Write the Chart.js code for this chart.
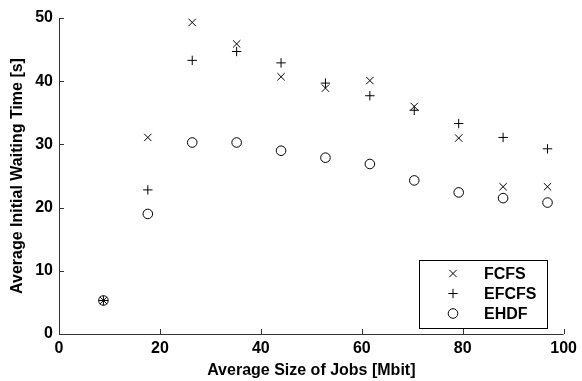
<!DOCTYPE html>
<html>
<head>
<meta charset="utf-8">
<script src="https://cdn.jsdelivr.net/npm/chart.js@4/dist/chart.umd.min.js"></script>
<style>
  html, body { margin: 0; padding: 0; background: #fff; }
  #wrap { width: 582px; height: 381px; position: relative; }
</style>
</head>
<body>
<div id="wrap"><canvas id="c"></canvas></div>
<script>
const jobSizes = [8.8, 17.6, 26.4, 35.2, 44.0, 52.8, 61.6, 70.4, 79.2, 88.0, 96.8];
const fcfs  = [5.3, 31.1, 49.3, 45.9, 40.7, 38.9, 40.1, 36.0, 31.0, 23.3, 23.3];
const efcfs = [5.3, 22.8, 43.3, 44.7, 42.9, 39.7, 37.7, 35.4, 33.3, 31.1, 29.3];
const ehdf  = [5.3, 19.0, 30.3, 30.3, 29.0, 27.9, 26.9, 24.3, 22.4, 21.5, 20.8];
const seriesNames = ['FCFS', 'EFCFS', 'EHDF'];
const xTicks = [0, 20, 40, 60, 80, 100];
const yTicks = [0, 10, 20, 30, 40, 50];

const FONT = "'Liberation Sans', Arial, sans-serif";

function pts(vals) { return jobSizes.map((x, i) => ({ x: x, y: vals[i] })); }

const styles = [
  { pointStyle: 'crossRot', radius: 5.2 },
  { pointStyle: 'cross', radius: 4.7 },
  { pointStyle: 'circle', radius: 4.8 }
];
const seriesVals = [fcfs, efcfs, ehdf];

const datasets = seriesNames.map((name, i) => ({
  label: name,
  data: pts(seriesVals[i]),
  showLine: false,
  pointStyle: styles[i].pointStyle,
  pointRadius: styles[i].radius,
  pointHoverRadius: styles[i].radius,
  pointBorderColor: '#000',
  pointBackgroundColor: 'rgba(0,0,0,0)',
  pointBorderWidth: 1,
  borderColor: '#000',
  backgroundColor: 'rgba(0,0,0,0)'
}));

const tickPlugin = {
  id: 'inwardTicks',
  afterDatasetsDraw(chart) {
    const ctx = chart.ctx;
    const xs = chart.scales.x, ys = chart.scales.y;
    const area = chart.chartArea;
    ctx.save();
    ctx.strokeStyle = '#333';
    ctx.lineWidth = 1;
    ctx.beginPath();
    ctx.moveTo(area.left + 0.5, area.top);
    ctx.lineTo(area.left + 0.5, area.bottom + 0.5);
    ctx.lineTo(area.right, area.bottom + 0.5);
    xTicks.forEach(v => {
      const px = Math.round(xs.getPixelForValue(v)) + 0.5;
      ctx.moveTo(px, area.bottom);
      ctx.lineTo(px, area.bottom - 5);
    });
    yTicks.forEach(v => {
      const py = Math.round(ys.getPixelForValue(v)) + 0.5;
      ctx.moveTo(area.left, py);
      ctx.lineTo(area.left + 5, py);
    });
    ctx.stroke();

    // legend box
    const bx = 419.5, by = 260.5, bw = 128, bh = 68;
    ctx.fillStyle = '#fff';
    ctx.fillRect(bx, by, bw, bh);
    ctx.strokeStyle = '#000';
    ctx.strokeRect(bx, by, bw, bh);
    ctx.font = "bold 16px " + FONT;
    ctx.textBaseline = 'middle';
    ctx.textAlign = 'left';
    chart.data.datasets.forEach((ds, i) => {
      const cy = 273.5 + i * 20;
      ctx.strokeStyle = '#000';
      ctx.fillStyle = 'rgba(0,0,0,0)';
      ctx.lineWidth = 1;
      Chart.helpers.drawPoint(ctx, {
        pointStyle: ds.pointStyle,
        radius: ds.pointRadius,
        rotation: 0,
        borderWidth: 1
      }, 453, cy);
      ctx.fillStyle = '#000';
      ctx.fillText(ds.label, 484, cy + 1);
    });
    ctx.restore();
  }
};

new Chart(document.getElementById('c'), {
  type: 'scatter',
  data: { datasets: datasets },
  plugins: [tickPlugin],
  options: {
    responsive: true,
    maintainAspectRatio: false,
    animation: false,
    events: [],
    layout: { padding: { top: 18, right: 14, left: 0, bottom: 0 } },
    plugins: { legend: { display: false }, tooltip: { enabled: false } },
    scales: {
      x: {
        type: 'linear',
        min: 0, max: 100,
        afterBuildTicks: s => { s.ticks = xTicks.map(v => ({ value: v })); },
        afterFit: s => { s.height = 47; },
        grid: { display: false, drawTicks: false },
        border: { display: false },
        ticks: { padding: 5, color: '#000', font: { family: FONT, size: 16, weight: 'bold' }, maxRotation: 0 },
        title: { display: true, text: 'Average Size of Jobs [Mbit]', color: '#000',
                 font: { family: FONT, size: 16, weight: 'bold' }, padding: { top: 0, bottom: 1 } }
      },
      y: {
        type: 'linear',
        min: 0, max: 50,
        afterBuildTicks: s => { s.ticks = yTicks.map(v => ({ value: v })); },
        afterFit: s => { s.width = 59; },
        grid: { display: false, drawTicks: false },
        border: { display: false },
        ticks: { padding: 6, color: '#000', font: { family: FONT, size: 16, weight: 'bold' } },
        title: { display: true, text: 'Average Initial Waiting Time [s]', color: '#000',
                 font: { family: FONT, size: 16, weight: 'bold' }, padding: { top: 8, bottom: 0 } }
      }
    }
  }
});
</script>
</body>
</html>
